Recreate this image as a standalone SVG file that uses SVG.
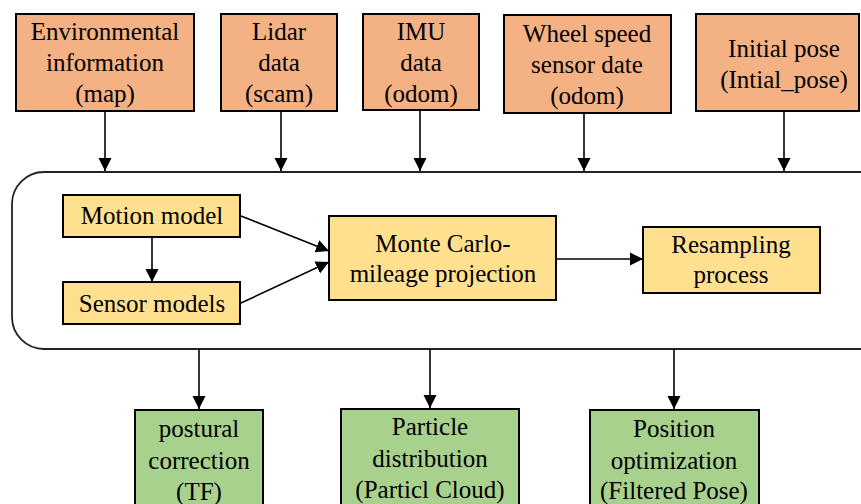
<svg xmlns="http://www.w3.org/2000/svg" width="861" height="504" viewBox="0 0 861 504">
<defs>
<marker id="ah" markerWidth="14" markerHeight="14" refX="13" refY="7" orient="auto" markerUnits="userSpaceOnUse" viewBox="0 0 14 14">
<path d="M0,0.5 L13,7 L0,13.5 Z" fill="#000"/>
</marker>
</defs>
<rect width="861" height="504" fill="#fff"/>
<g id="container">
<rect x="12" y="172" width="880" height="177" rx="32" ry="32" fill="#fff" stroke="#222" stroke-width="1.8"/>
</g>
<g id="connectors" stroke="#000" stroke-width="1.6" fill="none" marker-end="url(#ah)">
<line x1="105" y1="111" x2="105" y2="171"/>
<line x1="281" y1="111" x2="281" y2="171"/>
<line x1="420" y1="110" x2="420" y2="171"/>
<line x1="584" y1="113" x2="584" y2="171"/>
<line x1="784" y1="111" x2="784" y2="171"/>
<line x1="152" y1="237" x2="152" y2="282"/>
<line x1="241" y1="216" x2="329" y2="251"/>
<line x1="241" y1="303" x2="329" y2="262"/>
<line x1="556" y1="259" x2="643" y2="259"/>
<line x1="199" y1="349" x2="199" y2="409"/>
<line x1="430" y1="349" x2="430" y2="408"/>
<line x1="674" y1="349" x2="674" y2="409"/>
</g>
<g font-family="Liberation Serif" font-size="25" text-anchor="middle">
<g id="env">
<rect x="16" y="14" width="178" height="97" fill="#F4B183" stroke="#000" stroke-width="2"/>
<text x="105" y="40">Environmental</text>
<text x="105" y="71">information</text>
<text x="105" y="102">(map)</text>
</g>
<g id="lidar">
<rect x="221" y="14" width="116" height="97" fill="#F4B183" stroke="#000" stroke-width="2"/>
<text x="279" y="40">Lidar</text>
<text x="279" y="71">data</text>
<text x="279" y="102">(scam)</text>
</g>
<g id="imu">
<rect x="363" y="14" width="116" height="96" fill="#F4B183" stroke="#000" stroke-width="2"/>
<text x="421" y="40">IMU</text>
<text x="421" y="71">data</text>
<text x="421" y="102">(odom)</text>
</g>
<g id="wheel">
<rect x="504" y="15" width="167" height="98" fill="#F4B183" stroke="#000" stroke-width="2"/>
<text x="587" y="42">Wheel speed</text>
<text x="587" y="73">sensor date</text>
<text x="587" y="104">(odom)</text>
</g>
<g id="initpose">
<rect x="696" y="14" width="163" height="97" fill="#F4B183" stroke="#000" stroke-width="2"/>
<text x="784" y="57">Initial pose</text>
<text x="784" y="88">(Intial_pose)</text>
</g>
<g id="motion">
<rect x="63" y="195" width="177" height="42" fill="#FFE08F" stroke="#000" stroke-width="2"/>
<text x="152" y="224">Motion model</text>
</g>
<g id="sensor">
<rect x="63" y="282" width="177" height="42" fill="#FFE08F" stroke="#000" stroke-width="2"/>
<text x="152" y="312">Sensor models</text>
</g>
<g id="montecarlo">
<rect x="329" y="216" width="227" height="84" fill="#FFE08F" stroke="#000" stroke-width="2"/>
<text x="443" y="252">Monte Carlo-</text>
<text x="443" y="282">mileage projection</text>
</g>
<g id="resampling">
<rect x="643" y="227" width="177" height="66" fill="#FFE08F" stroke="#000" stroke-width="2"/>
<text x="731" y="253">Resampling</text>
<text x="731" y="283">process</text>
</g>
<g id="postural">
<rect x="135" y="410" width="128" height="98" fill="#A9D18E" stroke="#000" stroke-width="2"/>
<text x="199" y="437">postural</text>
<text x="199" y="469">correction</text>
<text x="199" y="500">(TF)</text>
</g>
<g id="particle">
<rect x="341" y="409" width="178" height="99" fill="#A9D18E" stroke="#000" stroke-width="2"/>
<text x="430" y="435">Particle</text>
<text x="430" y="467">distribution</text>
<text x="430" y="498">(Particl Cloud)</text>
</g>
<g id="position">
<rect x="590" y="410" width="169" height="98" fill="#A9D18E" stroke="#000" stroke-width="2"/>
<text x="674" y="437">Position</text>
<text x="674" y="469">optimization</text>
<text x="674" y="499">(Filtered Pose)</text>
</g>
</g>
</svg>
